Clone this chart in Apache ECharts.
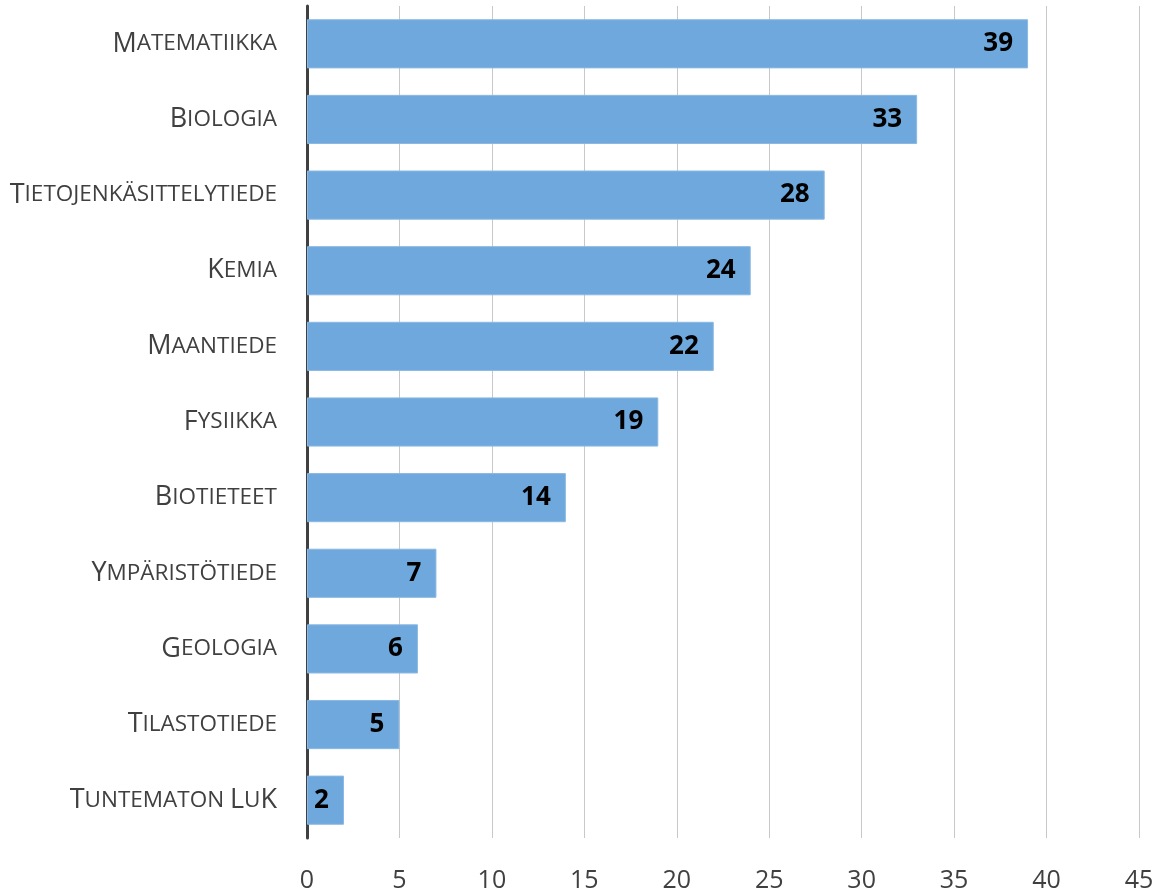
<!DOCTYPE html>
<html><head><meta charset="utf-8">
<script src="https://cdn.jsdelivr.net/npm/echarts@6/dist/echarts.min.js"></script>
<style>html,body{margin:0;padding:0;background:#fff}#c{width:1158px;height:896px}</style>
</head><body><div id="c"></div>
<script>
const categories = ["Matematiikka","Biologia","Tietojenkäsittelytiede","Kemia","Maantiede","Fysiikka","Biotieteet","Ympäristötiede","Geologia","Tilastotiede","Tuntematon LuK"];
const values = [39,33,28,24,22,19,14,7,6,5,2];
const xTicks = [0,5,10,15,20,25,30,35,40,45];

function smallCaps(s){
  let out='';
  for(const ch of s){
    if(ch===' ') out+='{s| }';
    else if(ch===ch.toUpperCase() && ch!==ch.toLowerCase()) out+='{b|'+ch+'}';
    else out+='{s|'+ch.toUpperCase()+'}';
  }
  return out;
}
const chart = echarts.init(document.getElementById('c'));
const font = '"Open Sans", sans-serif';
chart.setOption({
  animation:false,
  grid:{left:307,right:19,top:6,bottom:58,containLabel:false},
  xAxis:{type:'value',min:xTicks[0],max:xTicks[xTicks.length-1],interval:5,
    axisLine:{show:false},axisTick:{show:false},
    splitLine:{show:true,lineStyle:{color:'#c8c8c8',width:1}},
    axisLabel:{color:'#404040',fontSize:25,fontFamily:font,margin:30}},
  yAxis:{type:'category',data:categories,inverse:true,
    axisLine:{show:true,lineStyle:{color:'#404040',width:3}},
    axisTick:{show:false},
    axisLabel:{margin:30,color:'#404040',fontFamily:font,
      formatter:v=>smallCaps(v),
      rich:{b:{fontSize:27,color:'#404040',fontFamily:font},s:{fontSize:22.5,color:'#404040',fontFamily:font}}}},
  series:[{type:'bar',data:values,barCategoryGap:'35%',
    itemStyle:{color:'#6fa8dc',borderColor:'#8bb9e3',borderWidth:1},
    label:{show:true,position:'insideRight',distance:15,color:'#000',fontWeight:'bold',fontSize:26,fontFamily:font}}]
});
</script></body></html>
